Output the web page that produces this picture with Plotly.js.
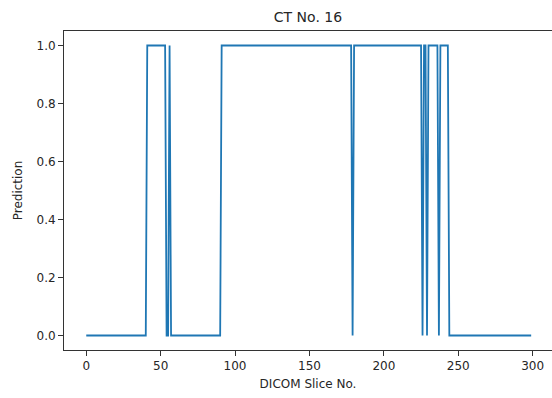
<!DOCTYPE html>
<html>
<head>
<meta charset="utf-8">
<script src="https://cdn.plot.ly/plotly-3.0.1.min.js"></script>
<style>html,body{margin:0;padding:0;background:#fff;}#chart{width:552px;height:398px;}</style>
</head>
<body>
<div id="chart"></div>
<script>
// Chart text
const chartTitle = "CT No. 16";
const xLabel = "DICOM Slice No.";
const yLabel = "Prediction";

// Prediction per DICOM slice (slice index 0..299)
const prediction = [
  0,0,0,0,0,0,0,0,0,0,0,0,0,0,0,0,0,0,0,0,
  0,0,0,0,0,0,0,0,0,0,0,0,0,0,0,0,0,0,0,0,
  0,1,1,1,1,1,1,1,1,1,1,1,1,1,0,0,1,0,0,0,
  0,0,0,0,0,0,0,0,0,0,0,0,0,0,0,0,0,0,0,0,
  0,0,0,0,0,0,0,0,0,0,0,1,1,1,1,1,1,1,1,1,
  1,1,1,1,1,1,1,1,1,1,1,1,1,1,1,1,1,1,1,1,
  1,1,1,1,1,1,1,1,1,1,1,1,1,1,1,1,1,1,1,1,
  1,1,1,1,1,1,1,1,1,1,1,1,1,1,1,1,1,1,1,1,
  1,1,1,1,1,1,1,1,1,1,1,1,1,1,1,1,1,1,1,0,
  1,1,1,1,1,1,1,1,1,1,1,1,1,1,1,1,1,1,1,1,
  1,1,1,1,1,1,1,1,1,1,1,1,1,1,1,1,1,1,1,1,
  1,1,1,1,1,1,0,1,1,0,1,1,1,1,1,1,1,0,1,1,
  1,1,1,1,0,0,0,0,0,0,0,0,0,0,0,0,0,0,0,0,
  0,0,0,0,0,0,0,0,0,0,0,0,0,0,0,0,0,0,0,0,
  0,0,0,0,0,0,0,0,0,0,0,0,0,0,0,0,0,0,0,0
];

// Tick values / labels
const xTickVals = [0, 50, 100, 150, 200, 250, 300];
const yTickVals = [0.0, 0.2, 0.4, 0.6, 0.8, 1.0];
const yTickText = ["0.0", "0.2", "0.4", "0.6", "0.8", "1.0"];

const font = "DejaVu Sans, sans-serif";
const axisColor = "#333333";

const trace = {
  y: prediction,
  type: "scatter",
  mode: "lines",
  line: {color: "#1f77b4", width: 1.8},
  hoverinfo: "none"
};

const layout = {
  width: 552,
  height: 398,
  margin: {l: 64, r: 0, t: 31, b: 48},
  paper_bgcolor: "#ffffff",
  plot_bgcolor: "#ffffff",
  showlegend: false,
  font: {family: font, size: 12, color: "#262626"},
  title: {
    text: chartTitle,
    font: {family: font, size: 14, color: "#262626"},
    x: 0.5, xref: "paper",
    y: 1 - 17/398, yref: "container", yanchor: "middle"
  },
  xaxis: {
    range: [-14.95, 313.0],
    tickvals: xTickVals,
    ticks: "outside", ticklen: 5, tickwidth: 1, tickcolor: axisColor,
    showgrid: false, zeroline: false,
    showline: true, linecolor: axisColor, linewidth: 1, mirror: true,
    tickfont: {family: font, size: 12, color: "#262626"},
    title: {text: xLabel, font: {family: font, size: 12, color: "#262626"}, standoff: 7}
  },
  yaxis: {
    range: [-0.05, 1.05],
    tickvals: yTickVals,
    ticktext: yTickText,
    ticks: "outside", ticklen: 5, tickwidth: 1, tickcolor: axisColor,
    showgrid: false, zeroline: false,
    showline: true, linecolor: axisColor, linewidth: 1, mirror: false,
    tickfont: {family: font, size: 12, color: "#262626"},
    title: {text: yLabel, font: {family: font, size: 12, color: "#262626"}, standoff: 11}
  }
};

Plotly.newPlot("chart", [trace], layout, {staticPlot: true, displayModeBar: false});
</script>
</body>
</html>
